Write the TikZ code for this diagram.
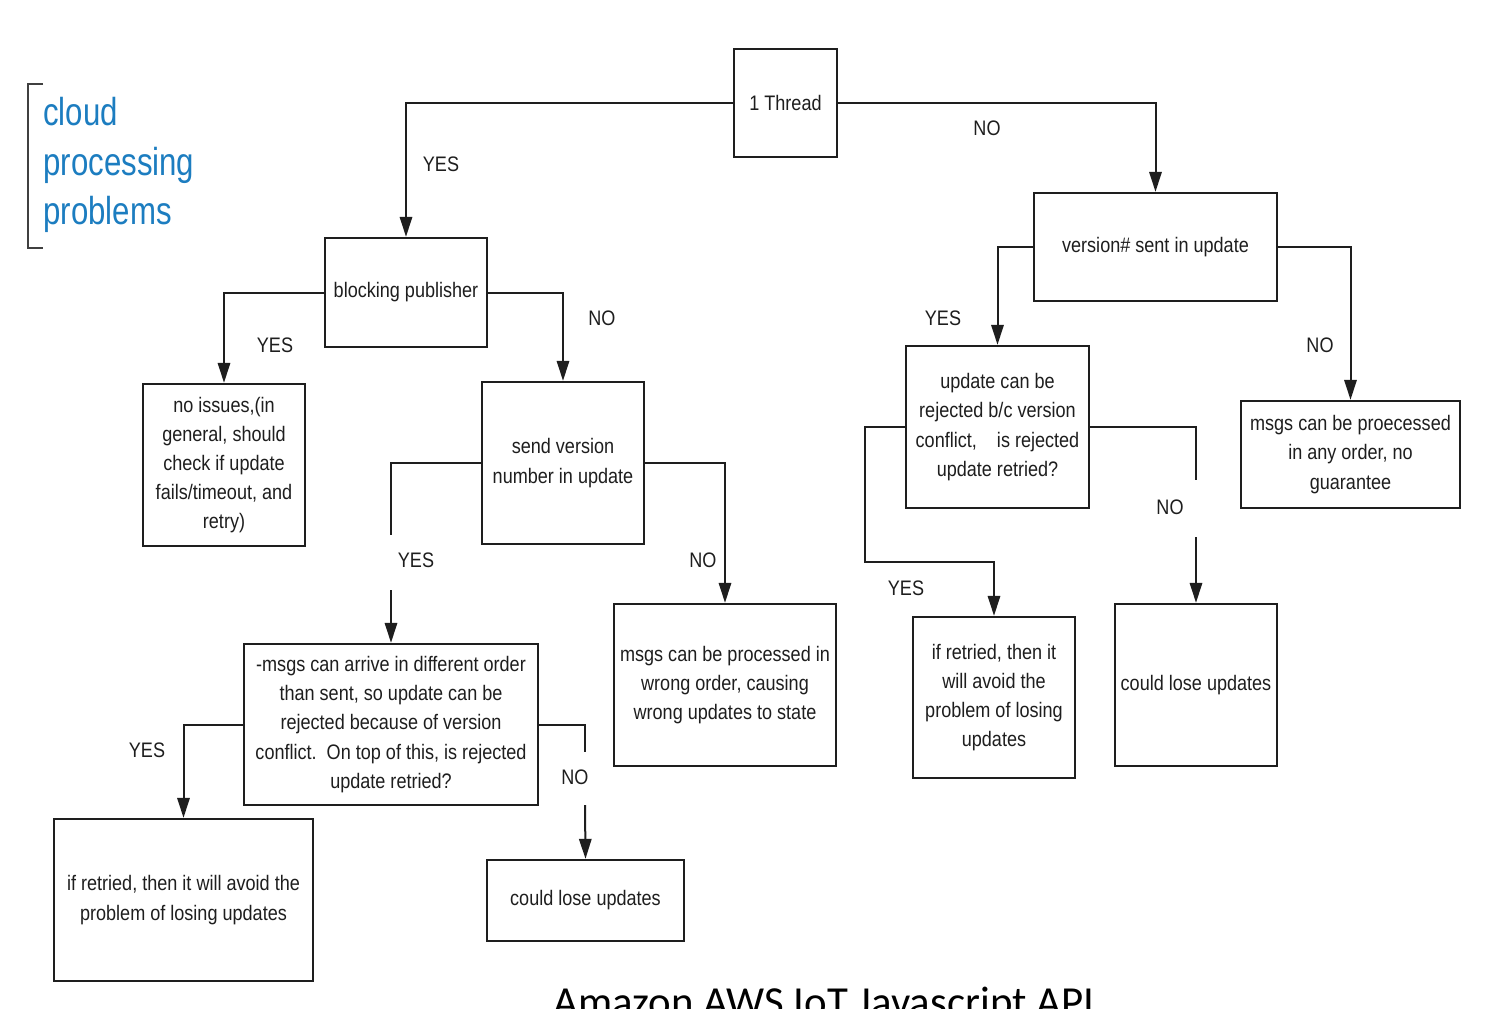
\documentclass[tikz,border=0pt]{standalone}
\usepackage{fontspec}
\usetikzlibrary{arrows.meta}
\setmainfont[FakeStretch=0.86]{Liberation Sans}
\newfontfamily\headfont[FakeStretch=0.8]{Liberation Sans}
\newfontfamily\capfont{Carlito}
\definecolor{headblue}{RGB}{28,125,192}
\definecolor{ink}{RGB}{30,30,30}
\begin{document}
\begin{tikzpicture}[x=0.5pt,y=-0.5pt,
  box/.style={draw=ink, line width=1.2pt, align=center, inner sep=0pt, text=ink,
    font=\fontsize{10.5}{14.6}\selectfont},
  lbl/.style={text=ink, inner sep=0pt, font=\fontsize{10.5}{12}\selectfont},
  head/.style={anchor=base west, inner sep=0pt, text=headblue,
    font=\headfont\fontsize{19.5}{25}\selectfont},
  conn/.style={draw=ink, line width=1pt},
  arr/.style={conn, -{Triangle[length=10pt,width=6.2pt]}}]
\clip (0,0) rectangle (1485,1008);
\fill[white] (0,0) rectangle (1485,1008);

% heading with bracket
\draw[ink!85, line width=1.2pt] (43,84) -- (28,84) -- (28,248) -- (43,248);
\node[head] (head1) at (43,125) {cloud};
\node[head] (head2) at (43,175) {processing};
\node[head] (head3) at (43,224) {problems};

% decision boxes and outcomes
\node[box, minimum width=51.5pt, minimum height=54pt] (thread) at (785.5,103) {1 Thread};
\node[box, minimum width=81pt, minimum height=54.5pt] (blocking) at (406,292.5) {blocking publisher};
\node[box, minimum width=121.5pt, minimum height=54pt] (version) at (1155.5,247) {version\# sent in update};
\node[box, minimum width=81pt, minimum height=81pt] (noissues) at (224,465)
  {no issues,(in\\general, should\\check if update\\fails/timeout, and\\retry)};
\node[box, minimum width=81pt, minimum height=81pt] (sendver) at (563,463)
  {send version\\number in update};
\node[box, minimum width=91.5pt, minimum height=81pt] (upd) at (997.5,427)
  {update can be\\rejected b/c version\\conflict,\ \ \ \ is rejected\\update retried?};
\node[box, minimum width=109.5pt, minimum height=53.5pt] (anyorder) at (1350.5,454.5)
  {msgs can be proecessed\\in any order, no\\guarantee};
\node[box, minimum width=147pt, minimum height=80.5pt] (arrive) at (391,724.5)
  {-msgs can arrive in different order\\than sent, so update can be\\rejected because of version\\conflict.\ \ On top of this, is rejected\\update retried?};
\node[box, minimum width=111pt, minimum height=81pt] (wrong) at (725,685)
  {msgs can be processed in\\wrong order, causing\\wrong updates to state};
\node[box, minimum width=81pt, minimum height=80.5pt] (retriedR) at (994,697.5)
  {if retried, then it\\will avoid the\\problem of losing\\updates};
\node[box, minimum width=81pt, minimum height=81pt] (loseR) at (1196,685) {could lose updates};
\node[box, minimum width=129.5pt, minimum height=81pt] (retriedL) at (183.5,900)
  {if retried, then it will avoid the\\problem of losing updates};
\node[box, minimum width=98.5pt, minimum height=40.5pt] (loseB) at (585.5,900.5) {could lose updates};

% routing points
\coordinate (yesA) at (391,535);
\coordinate (yesB) at (391,590);
\coordinate (noA) at (1196,480);
\coordinate (noB) at (1196,537);
\coordinate (noC) at (585,752);
\coordinate (noD) at (585,805);
\coordinate (bend) at (865,562);

% connectors
\draw[arr] (thread.west) -| (blocking.north);
\draw[arr] (thread.east) -| (version.north);
\draw[arr] (blocking.west) -| (noissues.north);
\draw[arr] (blocking.east) -| (sendver.north);
\draw[conn] (sendver.west) -| (yesA);
\draw[arr] (yesB) -- (arrive.north);
\draw[arr] (sendver.east) -| (wrong.north);
\draw[arr] (version.west) -| (upd.north);
\draw[arr] (version.east) -| (anyorder.north);
\draw[arr] (upd.west) -| (bend) -| (retriedR.north);
\draw[conn] (upd.east) -| (noA);
\draw[arr] (noB) -- (loseR.north);
\draw[arr] (arrive.west) -| (retriedL.north);
\draw[conn] (arrive.east) -| (noC);
\draw[arr] (noD) -- (loseB.north);

% branch labels
\node[lbl] (l1) at (441,164) {YES};
\node[lbl] (l2) at (987,128) {NO};
\node[lbl] (l3) at (275,345) {YES};
\node[lbl] (l4) at (602,318) {NO};
\node[lbl] (l5) at (416,560) {YES};
\node[lbl] (l6) at (703,560) {NO};
\node[lbl] (l7) at (943,318) {YES};
\node[lbl] (l8) at (1320,345) {NO};
\node[lbl] (l9) at (906,588) {YES};
\node[lbl] (l10) at (1170,507) {NO};
\node[lbl] (l11) at (147,750) {YES};
\node[lbl] (l12) at (575,777) {NO};

% caption, cut by the lower edge
\node[anchor=base west, inner sep=0pt, text=black, font=\capfont\fontsize{21.4}{23}\selectfont]
  (caption) at (553,1016) {Amazon AWS IoT Javascript API};
\end{tikzpicture}
\end{document}
